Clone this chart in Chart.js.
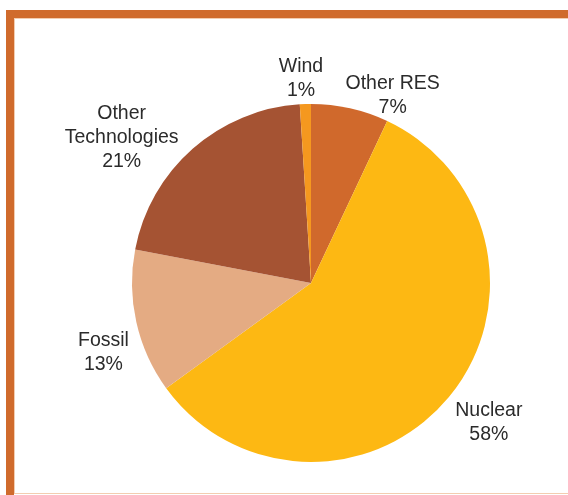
<!DOCTYPE html>
<html>
<head>
<meta charset="utf-8">
<script src="https://cdn.jsdelivr.net/npm/chart.js@4/dist/chart.umd.min.js"></script>
<style>
  html, body { margin: 0; padding: 0; background: #fff; }
  #wrap { position: relative; width: 568px; height: 495px; overflow: hidden; }
  #frame { position: absolute; left: 6px; top: 10px; right: 0; bottom: 0;
           border-top: 8px solid #D06B2C; border-left: 8px solid #D06B2C; }
  #inner { position: absolute; left: 0; top: 0; right: 0; bottom: 1px;
           border-top: 1px solid #F3CDB0; border-left: 1px solid #F3CDB0; border-bottom: 1px solid #F3CDB0; }
  #chart { position: absolute; left: 0; top: 0; }
</style>
</head>
<body>
<div id="wrap">
  <div id="frame"><div id="inner"></div></div>
  <canvas id="chart" width="568" height="495"></canvas>
</div>
<script>
// data
const categories = ['Other RES', 'Nuclear', 'Fossil', 'Other Technologies', 'Wind'];
const shares = [7, 58, 13, 21, 1];
const colors = ['#D0692C', '#FDB813', '#E4AB83', '#A55333', '#F5981F'];

// label layout: gap outside the rim and angle nudge (degrees)
const labelGap = [25, 47, 40, 60, 26];
const labelTurn = [11, -1.5, -6, -11, -1];

function labelLines(i) {
    var name = categories[i];
    var lines = name == 'Other Technologies' ? ['Other', 'Technologies'] : [name];
    lines.push(shares[i] + '%');
    return lines;
}

const outsideLabels = {
    id: 'outsideLabels',
    afterDatasetsDraw: function(chart) {
        const ctx = chart.ctx;
        const meta = chart.getDatasetMeta(0);
        ctx.save();
        ctx.font = '19.5px "Liberation Sans", Arial, sans-serif';
        ctx.fillStyle = '#2b2b2b';
        ctx.textAlign = 'center';
        ctx.textBaseline = 'middle';
        meta.data.forEach(function(arc, i) {
            var p = arc.getProps(['x', 'y', 'startAngle', 'endAngle', 'outerRadius'], true);
            var mid = (p.startAngle + p.endAngle) / 2 + labelTurn[i] * Math.PI / 180;
            var d = p.outerRadius + labelGap[i];
            var cx = p.x + Math.cos(mid) * d;
            var cy = p.y + Math.sin(mid) * d;
            var lines = labelLines(i);
            var lh = 24;
            var y0 = cy - (lines.length - 1) * lh / 2;
            lines.forEach(function(t, k) {
                ctx.fillText(t, cx, y0 + k * lh);
            });
        });
        ctx.restore();
    }
};

new Chart(document.getElementById('chart'), {
    type: 'pie',
    data: {
        labels: categories,
        datasets: [{
            data: shares,
            backgroundColor: colors,
            borderWidth: 0
        }]
    },
    options: {
        responsive: false,
        animation: false,
        layout: { padding: { left: 132, right: 78, top: 104, bottom: 33 } },
        plugins: {
            legend: { display: false },
            tooltip: { enabled: false }
        }
    },
    plugins: [outsideLabels]
});
</script>
</body>
</html>
